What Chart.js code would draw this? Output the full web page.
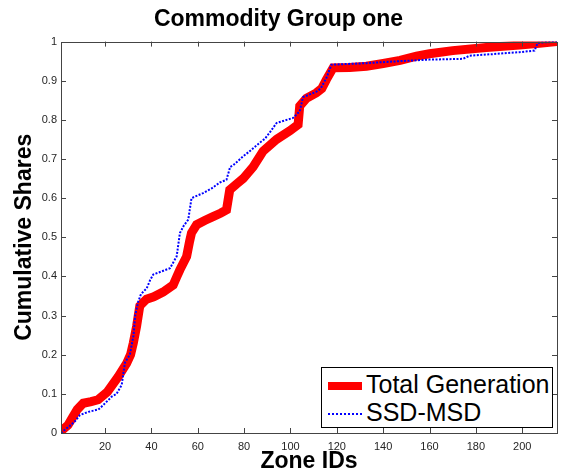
<!DOCTYPE html>
<html>
<head>
<meta charset="utf-8">
<script src="https://cdn.jsdelivr.net/npm/chart.js@4/dist/chart.umd.min.js"></script>
<style>
  html, body { margin: 0; padding: 0; background: #fff; }
  #wrap { position: relative; width: 566px; height: 475px; }
  #legendBox {
    position: absolute; left: 321px; top: 367px; width: 230px; height: 59px;
    border: 1px solid #000; background: #fff;
    font-family: Arial, "Liberation Sans", sans-serif; font-size: 25px; color: #000;
  }
  .legend-row { position: absolute; left: 6px; height: 26px; line-height: 26px; white-space: nowrap; }
  .legend-row span.swatch { display: inline-block; width: 34px; vertical-align: middle; margin-right: 4px; }
</style>
</head>
<body>
<div id="wrap">
  <canvas id="chart" width="566" height="475"></canvas>
  <div id="legendBox"></div>
</div>
<script>
// Total Generation (red, thick)
const genZones = [1, 4, 6, 8, 10.6, 14, 17, 21, 25.7, 29.3, 31, 32.2, 33.6, 35, 37.9, 41, 45, 49.4, 51, 52.3,
  55.2, 56.5, 57.3, 59.5, 63, 66.6, 70, 72.4, 73.8, 76.7, 79.6, 83.9, 88.2, 94, 99.7, 103.3, 104, 106.9,
  111.2, 113.5, 115.5, 118.4, 125.6, 132.8, 140, 147.3, 154.4, 160, 170, 184.5, 198.8, 207.4, 215];
const genShares = [0.005, 0.02, 0.04, 0.06, 0.076, 0.08, 0.085, 0.105, 0.144, 0.178, 0.2, 0.23, 0.272, 0.325,
  0.342, 0.348, 0.36, 0.378, 0.4, 0.417, 0.451, 0.49, 0.511, 0.532, 0.543, 0.553, 0.562, 0.57, 0.621, 0.636,
  0.65, 0.68, 0.72, 0.75, 0.772, 0.788, 0.835, 0.855, 0.869, 0.88, 0.903, 0.933, 0.934, 0.937, 0.944,
  0.952, 0.963, 0.969, 0.977, 0.985, 0.991, 0.996, 1.0];

// SSD-MSD (blue, dotted)
const ssdZones = [1, 3, 5.6, 7, 9.2, 12.8, 17.1, 19, 22.9, 25, 27.2, 28.6, 30.7, 32.3, 33, 34.3, 35.5, 38,
  39.4, 40.8, 44, 48, 50.9, 52.3, 54, 55.9, 57.3, 62.3, 66, 69.5, 72.4, 74, 75.3, 79.6, 82, 86.8, 89, 91.1,
  94, 101.1, 104, 105.4, 111.2, 113, 115.5, 117.7, 132.8, 147.1, 160, 174.4, 177.3, 187.3, 198.8, 205.3,
  206.7, 215];
const ssdShares = [0, 0.01, 0.022, 0.03, 0.046, 0.054, 0.06, 0.07, 0.093, 0.1, 0.123, 0.18, 0.2, 0.25, 0.3,
  0.335, 0.355, 0.37, 0.39, 0.405, 0.412, 0.421, 0.451, 0.511, 0.53, 0.545, 0.6, 0.613, 0.625, 0.64, 0.647,
  0.68, 0.684, 0.707, 0.718, 0.742, 0.752, 0.768, 0.792, 0.805, 0.822, 0.858, 0.872, 0.88, 0.907, 0.941,
  0.945, 0.95, 0.954, 0.956, 0.964, 0.968, 0.973, 0.977, 0.997, 1.0];

const xTicks = [20, 40, 60, 80, 100, 120, 140, 160, 180, 200];
const yTicks = [0, 0.1, 0.2, 0.3, 0.4, 0.5, 0.6, 0.7, 0.8, 0.9, 1];

const toPoints = (xs, ys) => xs.map((x, i) => ({ x, y: ys[i] }));

const series = [
  { label: "Total Generation", data: toPoints(genZones, genShares), color: "#ff0000", width: 9, dash: [] },
  { label: "SSD-MSD", data: toPoints(ssdZones, ssdShares), color: "#0000ff", width: 2, dash: [2, 1.5] }
];

const fontFamily = "Arial, 'Liberation Sans', sans-serif";

// box around plot + inward ticks on all four sides
const frameTicks = {
  id: "frameTicks",
  afterDatasetsDraw(chart) {
    const { ctx, chartArea: a, scales } = chart;
    ctx.save();
    ctx.strokeStyle = "#444";
    ctx.lineWidth = 1;
    ctx.beginPath();
    xTicks.forEach(v => {
      const px = Math.round(scales.x.getPixelForValue(v)) + 0.5;
      ctx.moveTo(px, a.bottom); ctx.lineTo(px, a.bottom - 5);
      ctx.moveTo(px, a.top); ctx.lineTo(px, a.top + 5);
    });
    yTicks.forEach(v => {
      const py = Math.round(scales.y.getPixelForValue(v)) + 0.5;
      ctx.moveTo(a.left, py); ctx.lineTo(a.left + 5, py);
      ctx.moveTo(a.right, py); ctx.lineTo(a.right - 5, py);
    });
    ctx.stroke();
    ctx.strokeRect(Math.round(a.left) + 0.5, Math.round(a.top) + 0.5,
      Math.round(a.right - a.left), Math.round(a.bottom - a.top));
    ctx.restore();
  }
};

new Chart(document.querySelector("#chart"), {
  type: "line",
  data: {
    datasets: series.map((s, i) => ({
      label: s.label,
      data: s.data,
      borderColor: s.color,
      backgroundColor: s.color,
      borderWidth: s.width,
      borderDash: s.dash,
      pointRadius: 0,
      tension: 0,
      fill: false,
      order: series.length - i
    }))
  },
  options: {
    responsive: false,
    animation: false,
    devicePixelRatio: 1,
    layout: { padding: { left: 0, right: 9, top: 0, bottom: 0 } },
    plugins: {
      legend: { display: false },
      tooltip: { enabled: false },
      title: {
        display: true,
        text: "Commodity Group one",
        color: "#000",
        font: { family: fontFamily, size: 23, weight: "bold" },
        padding: { top: 6, bottom: 8 }
      }
    },
    scales: {
      x: {
        type: "linear",
        min: 1,
        max: 215,
        afterBuildTicks: scale => { scale.ticks = xTicks.map(v => ({ value: v })); },
        afterFit: scale => { scale.height = 42; },
        grid: { display: false, drawTicks: false },
        border: { display: false },
        ticks: {
          color: "#262626",
          padding: 7,
          maxRotation: 0,
          font: { family: fontFamily, size: 11 }
        },
        title: {
          display: true,
          text: "Zone IDs",
          color: "#000",
          font: { family: fontFamily, size: 23, weight: "bold" },
          padding: { top: 0, bottom: 0 }
        }
      },
      y: {
        min: 0,
        max: 1,
        afterBuildTicks: scale => { scale.ticks = yTicks.map(v => ({ value: v })); },
        afterFit: scale => { scale.width = 61; },
        grid: { display: false, drawTicks: false },
        border: { display: false },
        ticks: {
          color: "#262626",
          padding: 4,
          callback: v => String(+v.toFixed(1)),
          font: { family: fontFamily, size: 11 }
        },
        title: {
          display: true,
          text: "Cumulative Shares",
          color: "#000",
          font: { family: fontFamily, size: 23, weight: "bold" },
          padding: { top: 11, bottom: 0 }
        }
      }
    }
  },
  plugins: [frameTicks]
});

// legend inside the plot, bottom right
const legendBox = document.querySelector("#legendBox");
legendBox.innerHTML = series.map((s, i) => `
  <div class="legend-row" style="top:${3 + i * 28}px">
    <span class="swatch" style="border-top:${s.width === 9 ? "8px solid " + s.color : "2px dotted " + s.color}"></span>${s.label}
  </div>
`).join("");
</script>
</body>
</html>
